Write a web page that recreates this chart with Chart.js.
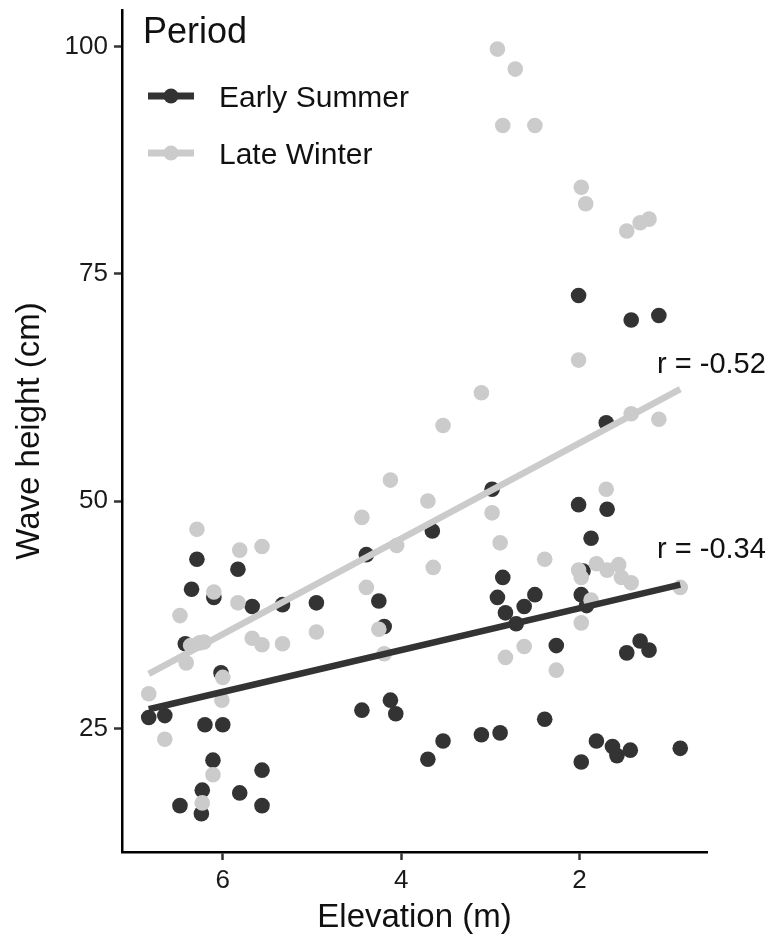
<!DOCTYPE html>
<html>
<head>
<meta charset="utf-8">
<script src="https://cdn.jsdelivr.net/npm/chart.js@4.4.1/dist/chart.umd.min.js"></script>
<style>
  html, body { margin: 0; padding: 0; background: #fff; }
  canvas { display: block; }
</style>
</head>
<body>
<canvas id="chart" width="771" height="940"></canvas>
<script>
// values
const summerX = [2.01, 1.42, 1.11, 1.70, 2.98, 2.01, 1.69, 3.65, 1.87, 2.86, 2.92, 2.50, 2.83, 2.62, 2.71, 2.26,
  1.96, 1.98, 1.92, 1.32, 1.47, 1.22, 2.39, 3.70, 3.53, 3.10, 2.89, 1.81, 1.98, 1.63, 1.58, 1.43, 0.87,
  6.29, 5.83, 6.35, 6.10, 5.67, 5.33, 4.95, 6.42, 6.02, 6.83, 6.65, 6.20, 6.00, 6.11, 5.56, 6.23, 5.81,
  6.48, 5.56, 6.24, 4.39, 4.25, 4.19, 4.44, 4.12, 4.06]
const summerY = [72.6, 69.9, 70.4, 58.6, 51.3, 49.6, 49.1, 46.7, 45.9, 41.6, 39.4, 39.7, 37.7, 38.4, 36.5, 34.1,
  42.3, 39.7, 38.5, 34.6, 33.3, 33.6, 26.0, 21.6, 23.6, 24.3, 24.5, 23.6, 21.3, 23.0, 22.0, 22.6, 22.8,
  43.6, 42.5, 40.3, 39.4, 38.4, 38.6, 38.8, 34.3, 31.1, 26.2, 26.4, 25.4, 25.4, 21.5, 20.4, 18.2, 17.9,
  16.5, 16.5, 15.6, 44.1, 39.0, 36.2, 27.0, 28.1, 26.6]

const winterX = [2.92, 2.72, 2.86, 2.50, 1.98, 1.93, 1.47, 1.32, 1.22, 2.01, 3.10, 3.53, 1.42, 1.11, 3.70, 2.98,
  1.70, 2.89, 3.64, 2.39, 2.83, 2.62, 2.26, 2.01, 1.98, 1.81, 1.69, 1.56, 1.53, 1.42, 1.87, 1.98, 0.87,
  6.29, 5.81, 5.56, 6.10, 5.83, 6.48, 6.36, 6.21, 6.26, 5.67, 5.56, 5.33, 4.95, 6.41, 6.00, 6.01, 6.83,
  6.65, 6.11, 6.23, 4.44, 4.05, 4.39, 4.25, 4.19, 4.12]
const winterY = [99.7, 97.5, 91.3, 91.3, 84.5, 82.7, 79.7, 80.6, 81.0, 65.5, 61.9, 58.3, 59.6, 59.0, 50.0, 48.7,
  51.3, 45.4, 42.7, 43.6, 32.8, 34.0, 31.4, 42.4, 41.6, 43.1, 42.4, 43.0, 41.6, 41.0, 39.1, 36.6, 40.5,
  46.9, 44.6, 45.0, 40.0, 38.8, 37.4, 34.1, 34.5, 34.4, 34.9, 34.2, 34.3, 35.6, 32.2, 30.6, 28.1, 28.8,
  23.8, 19.9, 16.8, 48.2, 45.1, 40.5, 35.9, 33.2, 52.3]

// fitted line ends
const fitX = [6.83, 0.87]
const summerFit = [27.1, 40.8]
const winterFit = [31.0, 62.3]

const xTicks = [2, 4, 6]
const yTicks = [25, 50, 75, 100]
const seriesLabels = ['Early Summer', 'Late Winter']
const rLabels = ['r = -0.34', 'r = -0.52']

const DARK = '#333333'
const LIGHT = '#cbcbcb'
const FONT = '"Liberation Sans", Arial, sans-serif'

const toPoints = (xs, ys) => xs.map((x, i) => ({ x, y: ys[i] }))

const legendPlugin = {
    id: 'periodLegend',
    afterDraw(chart) {
        const ctx = chart.ctx
        ctx.save()
        ctx.fillStyle = '#111'
        ctx.textBaseline = 'alphabetic'
        ctx.font = '36px ' + FONT
        ctx.fillText('Period', 143, 43)
        const colors = [DARK, LIGHT]
        seriesLabels.forEach((label, i) => {
            const y = 96 + i * 57
            ctx.strokeStyle = colors[i]
            ctx.lineWidth = 7
            ctx.beginPath()
            ctx.moveTo(148, y)
            ctx.lineTo(194, y)
            ctx.stroke()
            ctx.fillStyle = colors[i]
            ctx.beginPath()
            ctx.arc(171, y, 7.5, 0, Math.PI * 2)
            ctx.fill()
            ctx.fillStyle = '#111'
            ctx.font = '30px ' + FONT
            ctx.fillText(label, 219, y + 11)
        })
        ctx.restore()
    }
}

const rPlugin = {
    id: 'rLabels',
    afterDatasetsDraw(chart) {
        const { ctx, scales } = chart
        const anchors = [{ x: 1.13, y: 43.7 }, { x: 1.13, y: 64.1 }]
        ctx.save()
        ctx.fillStyle = '#111'
        ctx.font = '29px ' + FONT
        ctx.textBaseline = 'alphabetic'
        rLabels.forEach((t, i) => {
            ctx.fillText(t, scales.x.getPixelForValue(anchors[i].x), scales.y.getPixelForValue(anchors[i].y))
        })
        ctx.restore()
    }
}

new Chart(document.getElementById('chart'), {
    type: 'scatter',
    data: {
        datasets: [
            {
                type: 'line',
                label: seriesLabels[0] + ' fit',
                data: toPoints(fitX, summerFit),
                borderColor: DARK,
                borderWidth: 6.5,
                pointRadius: 0,
                borderCapStyle: 'butt'
            },
            {
                type: 'line',
                label: seriesLabels[1] + ' fit',
                data: toPoints(fitX, winterFit),
                borderColor: LIGHT,
                borderWidth: 6.5,
                pointRadius: 0,
                borderCapStyle: 'butt'
            },
            {
                label: seriesLabels[1],
                data: toPoints(winterX, winterY),
                backgroundColor: LIGHT,
                borderWidth: 0,
                pointRadius: 7.8
            },
            {
                label: seriesLabels[0],
                data: toPoints(summerX, summerY),
                backgroundColor: DARK,
                borderWidth: 0,
                pointRadius: 7.8
            }
        ]
    },
    options: {
        responsive: false,
        animation: false,
        devicePixelRatio: 1,
        layout: { padding: { top: 10, right: 64, left: 0, bottom: 0 } },
        plugins: { legend: { display: false }, tooltip: { enabled: false } },
        scales: {
            x: {
                type: 'linear',
                reverse: true,
                min: 0.57,
                max: 7.13,
                afterBuildTicks: s => { s.ticks = xTicks.map(v => ({ value: v })) },
                afterFit: s => { s.height = 88 },
                border: { display: true, color: '#000', width: 2.5 },
                grid: { drawOnChartArea: false, drawTicks: true, tickLength: 8, tickColor: '#333', tickWidth: 2.5 },
                ticks: { color: '#1a1a1a', padding: 5, font: { family: FONT, size: 26 } },
                title: {
                    display: true,
                    text: 'Elevation (m)',
                    color: '#111',
                    font: { family: FONT, size: 33 },
                    padding: { top: 0, bottom: 2 }
                }
            },
            y: {
                min: 11.4,
                max: 104.0,
                afterBuildTicks: s => { s.ticks = yTicks.map(v => ({ value: v })) },
                afterFit: s => {
                    s.width = 122
                    s.paddingTop = 0
                    s.paddingBottom = 0
                },
                border: { display: true, color: '#000', width: 2.5 },
                grid: { drawOnChartArea: false, drawTicks: true, tickLength: 8, tickColor: '#333', tickWidth: 2.5 },
                ticks: { color: '#1a1a1a', padding: 6, font: { family: FONT, size: 26 } },
                title: {
                    display: true,
                    text: 'Wave height (cm)',
                    color: '#111',
                    font: { family: FONT, size: 33 },
                    padding: { top: 10, bottom: 0 }
                }
            }
        }
    },
    plugins: [legendPlugin, rPlugin]
})
</script>
</body>
</html>
